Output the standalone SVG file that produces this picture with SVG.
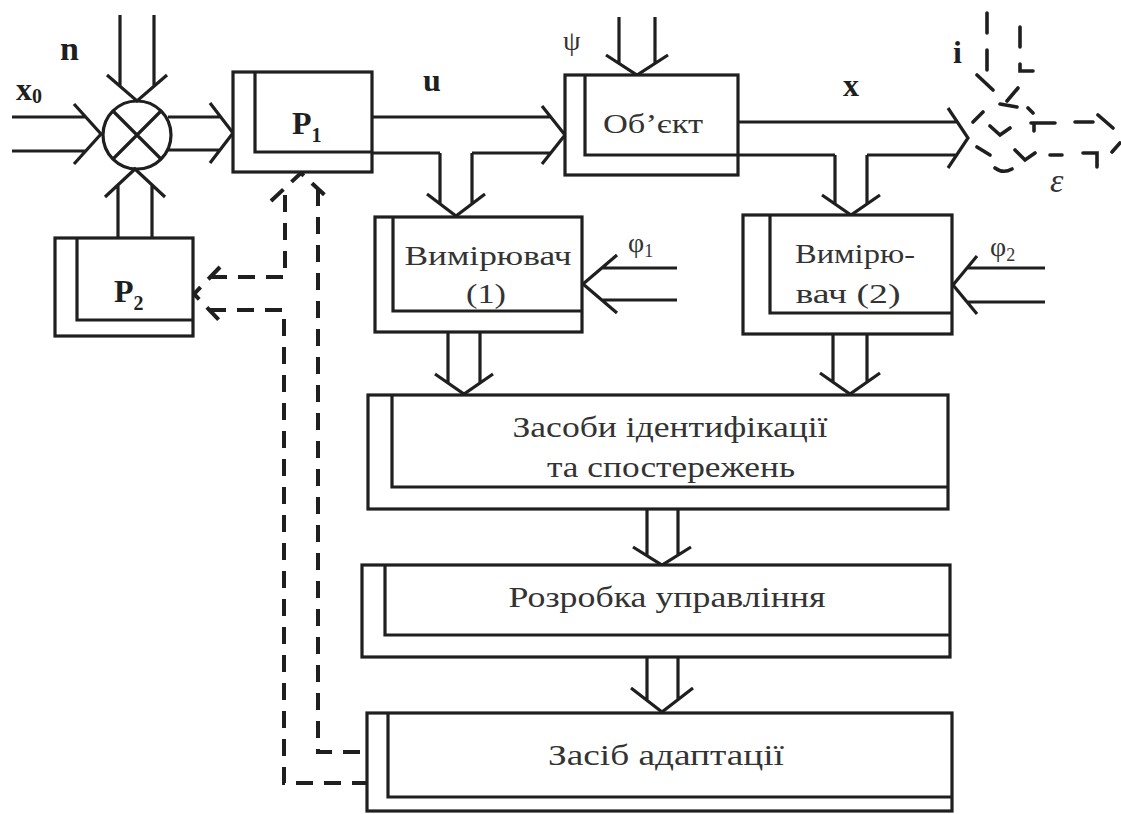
<svg xmlns="http://www.w3.org/2000/svg" width="1121" height="814" viewBox="0 0 1121 814">
<defs>
<style>
.ln{fill:none;stroke:#1f1f1f;stroke-width:3.2;stroke-linejoin:miter;stroke-linecap:butt}
.bx{fill:#fff;stroke:#1f1f1f;stroke-width:3.2}
.ds{fill:none;stroke:#1f1f1f;stroke-width:4;stroke-dasharray:17 11}
.dp{fill:none;stroke:#1f1f1f;stroke-width:3.6;stroke-linecap:round}
.t{font-family:"Liberation Serif","Times New Roman","DejaVu Serif",serif;fill:#333;text-anchor:middle}
.b{font-family:"Liberation Serif","Times New Roman","DejaVu Serif",serif;fill:#1f1f1f;font-weight:bold}
.g{font-family:"Liberation Serif","Times New Roman","DejaVu Serif",serif;fill:#333}
</style>
</defs>
<rect width="1121" height="814" fill="#fff"/>

<g id="connectors">
<path class="ln" d="M12,117H86 M12,151H86 M74,104L101,134L74,164"/>
<path class="ln" d="M120,15V86 M154,15V86 M107,75L137,101L167,75"/>
<path class="ln" d="M118,238V185 M152,238V185 M105,197L135,169L165,197"/>
<path class="ln" d="M168,117H221 M168,150H220 M210,103L233,133L210,163"/>
<path class="ln" d="M372,117H551 M372,153H440 M472,153H551 M542,106L565,135L542,164"/>
<path class="ln" d="M440,153V204 M472,153V204 M427,194L456,216L485,194"/>
<path class="ln" d="M619,17V63 M655,17V63 M606,55L637,75L668,55"/>
<path class="ln" d="M738,122H957 M738,155H835 M867,155H957 M948,108L968,138L948,168"/>
<path class="ln" d="M835,155V204 M867,155V204 M822,195L851,215L880,195"/>
<path class="ln" d="M677,268H602 M677,300H602 M617,255L583,284L617,313"/>
<path class="ln" d="M1045,268H967 M1045,302H967 M977,256L953,285L977,314"/>
<path class="ln" d="M448,332V383 M480,332V383 M435,374L464,394L493,374"/>
<path class="ln" d="M833,334V382 M867,334V382 M820,373L850,394L880,373"/>
<path class="ln" d="M647,509V555 M678,509V555 M633,547L662,565L691,547"/>
<path class="ln" d="M647,657V700 M678,657V700 M631,688L662,712L693,688"/>
<path class="ds" d="M271,201L301,173L331,201"/>
<path class="ds" d="M210,277H285V188"/>
<path class="ds" d="M318,189V752H366"/>
<path class="ds" d="M209,310H284V783H366"/>
<path class="ds" d="M220,267L194,294L220,321"/>
<path class="dp" d="M987,13V33 M987,50V70 M1020,27V47 M1020,64V71H1033 M977,75L993,90 M1018,88L1007,101 M1000,104L1017,107 M973,122L983,112 M990,126L1000,135L1010,128 M1028,108L1033,113 M1031,123H1055 M1034,123V131 M1075,122H1093 M1098,115L1113,128 M977,147L990,155 M1015,150L1025,160L1035,153 M1050,155H1062 M1083,153H1097V167 M1112,152L1120,143 M995,168Q1003,174 1012,169"/>
</g>

<g id="sum">
<circle class="ln" cx="137" cy="135" r="34"/>
<path class="ln" d="M113,111L161,159 M161,111L113,159"/>
</g>

<g id="P1">
<rect class="bx" x="233" y="72" width="139" height="100"/>
<path class="ln" d="M255,72V152H372"/>
<text class="b" x="292" y="134" font-size="32">P<tspan font-size="20" dy="8">1</tspan></text>
</g>

<g id="P2">
<rect class="bx" x="55" y="238" width="138" height="98"/>
<path class="ln" d="M77,238V320H193"/>
<text class="b" x="114" y="302" font-size="32">P<tspan font-size="20" dy="8">2</tspan></text>
</g>

<g id="object">
<rect class="bx" x="565" y="75" width="173" height="100"/>
<path class="ln" d="M585,75V155H738"/>
<text class="t" x="653" y="133" font-size="27" textLength="100" lengthAdjust="spacingAndGlyphs">Об’єкт</text>
</g>

<g id="meas1">
<rect class="bx" x="375" y="217" width="207" height="115"/>
<path class="ln" d="M393,217V311H582"/>
<text class="t" x="488" y="265" font-size="28" textLength="167" lengthAdjust="spacingAndGlyphs">Вимірювач</text>
<text class="t" x="486" y="303" font-size="28" textLength="40" lengthAdjust="spacingAndGlyphs">(1)</text>
</g>

<g id="meas2">
<rect class="bx" x="743" y="215" width="209" height="119"/>
<path class="ln" d="M770,215V313H952"/>
<text class="t" x="855" y="263" font-size="28" textLength="120" lengthAdjust="spacingAndGlyphs">Вимірю-</text>
<text class="t" x="848" y="303" font-size="28" textLength="105" lengthAdjust="spacingAndGlyphs">вач (2)</text>
</g>

<g id="ident">
<rect class="bx" x="368" y="395" width="580" height="114"/>
<path class="ln" d="M392,395V487H948"/>
<text class="t" x="670" y="437" font-size="30" textLength="315" lengthAdjust="spacingAndGlyphs">Засоби ідентифікації</text>
<text class="t" x="671" y="477" font-size="30" textLength="248" lengthAdjust="spacingAndGlyphs">та спостережень</text>
</g>

<g id="control">
<rect class="bx" x="362" y="565" width="588" height="92"/>
<path class="ln" d="M385,565V635H950"/>
<text class="t" x="667" y="607" font-size="30" textLength="317" lengthAdjust="spacingAndGlyphs">Розробка управління</text>
</g>

<g id="adaptation">
<rect class="bx" x="367" y="713" width="585" height="98"/>
<path class="ln" d="M388,713V797H952"/>
<text class="t" x="666" y="765" font-size="30" textLength="236" lengthAdjust="spacingAndGlyphs">Засіб адаптації</text>
</g>

<g id="labels">
<text class="b" x="16" y="100" font-size="32">x<tspan font-size="20" dy="3">0</tspan></text>
<text class="b" x="60" y="60" font-size="34">n</text>
<text class="b" x="423" y="91" font-size="32">u</text>
<text class="b" x="843" y="96" font-size="32">x</text>
<text class="b" x="953" y="63" font-size="32">i</text>
<text class="g" x="563" y="50" font-size="28">ψ</text>
<text class="g" x="628" y="252" font-size="28">φ<tspan font-size="18" dy="5">1</tspan></text>
<text class="g" x="990" y="256" font-size="28">φ<tspan font-size="18" dy="5">2</tspan></text>
<text class="g" x="1050" y="192" font-size="34" font-style="italic">ε</text>
</g>
</svg>
